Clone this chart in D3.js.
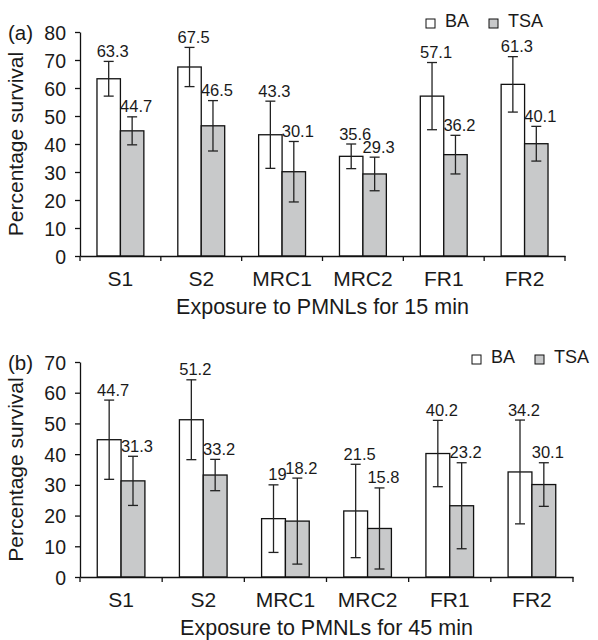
<!DOCTYPE html>
<html>
<head>
<meta charset="utf-8">
<script src="https://cdn.jsdelivr.net/npm/d3@7"></script>
<style>
  body { margin: 0; background: #fff; }
  svg text { font-family: "Liberation Sans", Arial, sans-serif; fill: #1a1a1a; }
</style>
</head>
<body>
<div id="chart"></div>
<script>
var categories = ["S1", "S2", "MRC1", "MRC2", "FR1", "FR2"];
var seriesNames = ["BA", "TSA"];

// (a) 15 min
var ba15 = [63.3, 67.5, 43.3, 35.6, 57.1, 61.3];
var tsa15 = [44.7, 46.5, 30.1, 29.3, 36.2, 40.1];
var ba15Err = [6.2, 7.0, 12.0, 4.4, 12.0, 9.9];
var tsa15Err = [5.0, 9.0, 10.8, 6.0, 6.9, 6.2];
var yTicks15 = [0, 10, 20, 30, 40, 50, 60, 70, 80];

// (b) 45 min
var ba45 = [44.7, 51.2, 19, 21.5, 40.2, 34.2];
var tsa45 = [31.3, 33.2, 18.2, 15.8, 23.2, 30.1];
var ba45Err = [12.9, 13.0, 11.0, 15.2, 10.8, 16.9];
var tsa45Err = [8.0, 5.1, 14.0, 13.2, 14.0, 7.1];
var yTicks45 = [0, 10, 20, 30, 40, 50, 60, 70];

var FILL = {"BA": "#ffffff", "TSA": "#c8c9ca"};

var svg = d3.select("#chart").append("svg")
  .attr("width", 598)
  .attr("height", 640);

function drawPanel(opt) {
  var g = svg.append("g");

  var x = d3.scaleBand().domain(categories).range([opt.left, opt.right]).padding(0);
  var bw = x.bandwidth();
  var x1 = d3.scaleBand().domain(seriesNames).range([bw * 0.21, bw * 0.79]).padding(0);
  var y = d3.scaleLinear().domain([0, opt.yMax]).range([opt.bottom, opt.top]);

  var rows = [];
  categories.forEach(function(c, i){
    rows.push({cat: c, s: "BA", v: opt.ba[i], e: opt.baErr[i]});
    rows.push({cat: c, s: "TSA", v: opt.tsa[i], e: opt.tsaErr[i]});
  });

  // bars
  g.selectAll("rect.bar").data(rows).enter().append("rect")
    .attr("class", "bar")
    .attr("x", function(d){ return x(d.cat) + x1(d.s); })
    .attr("y", function(d){ return y(d.v); })
    .attr("width", x1.bandwidth())
    .attr("height", function(d){ return y(0) - y(d.v); })
    .style("fill", function(d){ return FILL[d.s]; })
    .style("stroke", "#111")
    .style("stroke-width", 1.3);

  // error bars
  var err = g.selectAll("g.err").data(rows).enter().append("g")
    .attr("class", "err")
    .attr("transform", function(d){ return "translate(" + (x(d.cat) + x1(d.s) + x1.bandwidth() / 2) + ",0)"; });
  err.append("line")
    .attr("y1", function(d){ return y(d.v + d.e); })
    .attr("y2", function(d){ return y(d.v - d.e); });
  err.append("line")
    .attr("x1", -5).attr("x2", 5)
    .attr("y1", function(d){ return y(d.v + d.e); })
    .attr("y2", function(d){ return y(d.v + d.e); });
  err.append("line")
    .attr("x1", -5).attr("x2", 5)
    .attr("y1", function(d){ return y(d.v - d.e); })
    .attr("y2", function(d){ return y(d.v - d.e); });
  err.selectAll("line").style("stroke", "#222").style("stroke-width", 1.3);

  // value labels
  g.selectAll("text.val").data(rows).enter().append("text")
    .attr("class", "val")
    .attr("x", function(d){ return x(d.cat) + x1(d.s) + x1.bandwidth() / 2 + 4; })
    .attr("y", function(d){ return y(d.v + d.e) - 4.5; })
    .attr("text-anchor", "middle")
    .attr("font-size", 16.5)
    .text(function(d){ return d.v; });

  // y axis
  var yAxis = g.append("g")
    .attr("transform", "translate(" + opt.left + ",0)")
    .call(d3.axisLeft(y).tickValues(opt.yTicks).tickSize(5).tickSizeOuter(0).tickPadding(9));
  yAxis.selectAll("text").attr("font-size", 19.5).style("font-family", "Liberation Sans, Arial, sans-serif").attr("dy", "0.36em");
  yAxis.selectAll("line, path").style("stroke", "#111").style("stroke-width", 1.3);

  // x axis with ticks at category boundaries
  var xAxis = g.append("g")
    .attr("transform", "translate(0," + y(0) + ")")
    .call(d3.axisBottom(x).tickSize(0).tickSizeOuter(0).tickPadding(15));
  xAxis.selectAll("text").attr("font-size", 21).style("font-family", "Liberation Sans, Arial, sans-serif");
  xAxis.select("path").style("stroke", "#111").style("stroke-width", 1.3);
  var bounds = d3.range(categories.length + 1).map(function(i){ return opt.left + i * x.step(); });
  xAxis.selectAll("line.bound").data(bounds).enter().append("line")
    .attr("class", "bound")
    .attr("x1", function(d){ return d; }).attr("x2", function(d){ return d; })
    .attr("y1", 0).attr("y2", 5)
    .style("stroke", "#111").style("stroke-width", 1.3);

  // titles
  g.append("text")
    .attr("x", (opt.left + opt.right) / 2)
    .attr("y", y(0) + 58)
    .attr("text-anchor", "middle")
    .attr("font-size", 21.5)
    .text(opt.xTitle);
  g.append("text")
    .attr("transform", "translate(23," + (opt.top + opt.bottom) / 2 + ") rotate(-90)")
    .attr("text-anchor", "middle")
    .attr("font-size", 21)
    .text("Percentage survival");
  g.append("text")
    .attr("x", 8)
    .attr("y", opt.top + 8)
    .attr("font-size", 20.5)
    .text(opt.tag);

  // legend
  var leg = g.append("g").attr("transform", "translate(" + opt.legX + "," + opt.legY + ")");
  var items = leg.selectAll("g").data(seriesNames).enter().append("g")
    .attr("transform", function(d, i){ return "translate(" + (i * 63) + ",0)"; });
  items.append("rect")
    .attr("x", 0).attr("y", -8).attr("width", 9).attr("height", 9)
    .style("fill", function(d){ return FILL[d]; })
    .style("stroke", "#111").style("stroke-width", 1);
  items.append("text")
    .attr("x", 19).attr("y", 0)
    .attr("font-size", 18)
    .text(function(d){ return d; });
}

drawPanel({
  ba: ba15, tsa: tsa15, baErr: ba15Err, tsaErr: tsa15Err,
  yMax: 80, yTicks: yTicks15,
  left: 80, right: 565, top: 32, bottom: 256,
  xTitle: "Exposure to PMNLs for 15 min", tag: "(a)",
  legX: 426, legY: 27
});

drawPanel({
  ba: ba45, tsa: tsa45, baErr: ba45Err, tsaErr: tsa45Err,
  yMax: 70, yTicks: yTicks45,
  left: 80, right: 573, top: 362, bottom: 577,
  xTitle: "Exposure to PMNLs for 45 min", tag: "(b)",
  legX: 472, legY: 363
});
</script>
</body>
</html>
